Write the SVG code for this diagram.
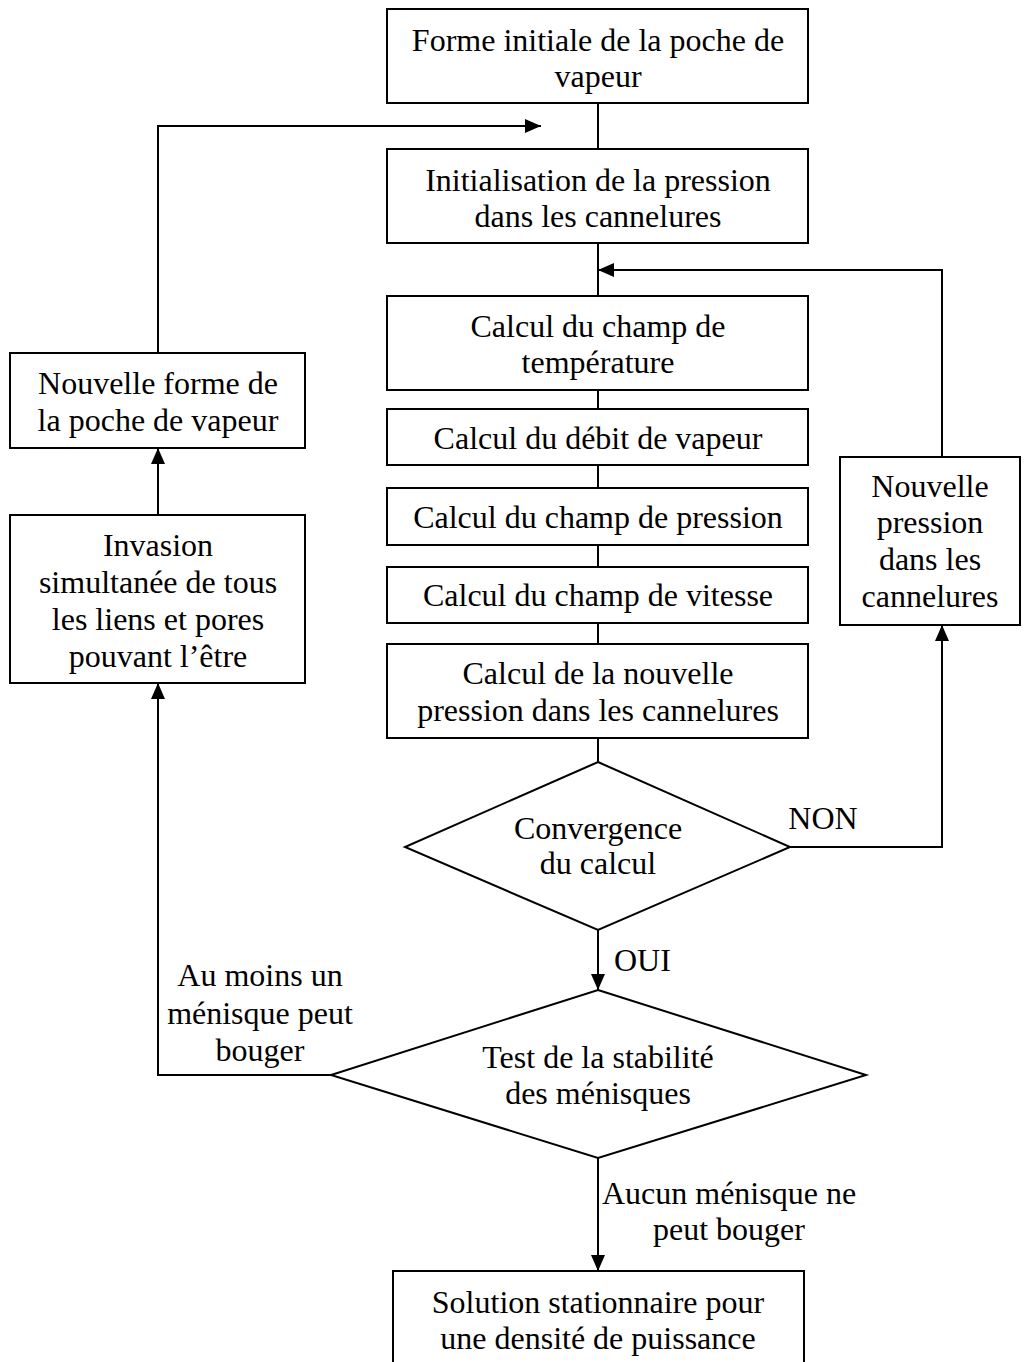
<svg xmlns="http://www.w3.org/2000/svg" width="1032" height="1362" viewBox="0 0 1032 1362">
<style>
.box{fill:#fff;stroke:#000;stroke-width:2}
.ln{fill:none;stroke:#000;stroke-width:2}
text{font-family:"Liberation Serif","Times New Roman",serif;font-size:32px;fill:#000;text-anchor:middle}
</style>
<defs>
<marker id="ah" viewBox="0 0 16 14" refX="16" refY="7" markerWidth="16" markerHeight="14" markerUnits="userSpaceOnUse" orient="auto">
<path d="M0,0 L16,7 L0,14 Z" fill="#000"/>
</marker>
</defs>
<rect width="1032" height="1362" fill="#fff"/>
<g id="connectors">
<line class="ln" x1="598" y1="103" x2="598" y2="149"/>
<line class="ln" x1="598" y1="243" x2="598" y2="296"/>
<line class="ln" x1="598" y1="390" x2="598" y2="409"/>
<line class="ln" x1="598" y1="465" x2="598" y2="488"/>
<line class="ln" x1="598" y1="545" x2="598" y2="567"/>
<line class="ln" x1="598" y1="623" x2="598" y2="644"/>
<line class="ln" x1="598" y1="738" x2="598" y2="762"/>
<line class="ln" x1="598" y1="930" x2="598" y2="990" marker-end="url(#ah)"/>
<line class="ln" x1="598" y1="1158" x2="598" y2="1271" marker-end="url(#ah)"/>
<polyline class="ln" points="790,847 942,847 942,625" marker-end="url(#ah)"/>
<polyline class="ln" points="942,457 942,270 598,270" marker-end="url(#ah)"/>
<polyline class="ln" points="331,1075 158,1075 158,683" marker-end="url(#ah)"/>
<line class="ln" x1="158" y1="515" x2="158" y2="448" marker-end="url(#ah)"/>
<polyline class="ln" points="158,353 158,126 541,126" marker-end="url(#ah)"/>
</g>
<g id="n1"><rect class="box" x="387" y="9" width="421" height="94"/><text x="598" y="51">Forme initiale de la poche de</text><text x="598" y="87">vapeur</text></g>
<g id="n2"><rect class="box" x="387" y="149" width="421" height="94"/><text x="598" y="191">Initialisation de la pression</text><text x="598" y="227">dans les cannelures</text></g>
<g id="n3"><rect class="box" x="387" y="296" width="421" height="94"/><text x="598" y="337">Calcul du champ de</text><text x="598" y="373">température</text></g>
<g id="n4"><rect class="box" x="387" y="409" width="421" height="56"/><text x="598" y="449">Calcul du débit de vapeur</text></g>
<g id="n5"><rect class="box" x="387" y="488" width="421" height="57"/><text x="598" y="528">Calcul du champ de pression</text></g>
<g id="n6"><rect class="box" x="387" y="567" width="421" height="56"/><text x="598" y="606">Calcul du champ de vitesse</text></g>
<g id="n7"><rect class="box" x="387" y="644" width="421" height="94"/><text x="598" y="684">Calcul de la nouvelle</text><text x="598" y="721">pression dans les cannelures</text></g>
<g id="d1"><polygon class="box" points="598,762 790,847 598,930 405,847"/><text x="598" y="839">Convergence</text><text x="598" y="874">du calcul</text></g>
<g id="n8"><rect class="box" x="840" y="457" width="180" height="168"/><text x="930" y="497">Nouvelle</text><text x="930" y="533">pression</text><text x="930" y="570">dans les</text><text x="930" y="607">cannelures</text></g>
<g id="d2"><polygon class="box" points="598,990 866,1075 598,1158 331,1075"/><text x="598" y="1068">Test de la stabilité</text><text x="598" y="1104">des ménisques</text></g>
<g id="n9"><rect class="box" x="10" y="353" width="295" height="95"/><text x="158" y="394">Nouvelle forme de</text><text x="158" y="431">la poche de vapeur</text></g>
<g id="n10"><rect class="box" x="10" y="515" width="295" height="168"/><text x="158" y="556">Invasion</text><text x="158" y="593">simultanée de tous</text><text x="158" y="630">les liens et pores</text><text x="158" y="667">pouvant l’être</text></g>
<g id="n11"><rect class="box" x="393" y="1271" width="411" height="110"/><text x="598" y="1313">Solution stationnaire pour</text><text x="598" y="1349">une densité de puissance</text></g>
<g id="labels">
<text x="823" y="829">NON</text>
<text x="614" y="971" style="text-anchor:start">OUI</text>
<text x="260" y="986">Au moins un</text><text x="260" y="1024">ménisque peut</text><text x="260" y="1061">bouger</text>
<text x="729" y="1204">Aucun ménisque ne</text><text x="729" y="1240">peut bouger</text>
</g>
</svg>
